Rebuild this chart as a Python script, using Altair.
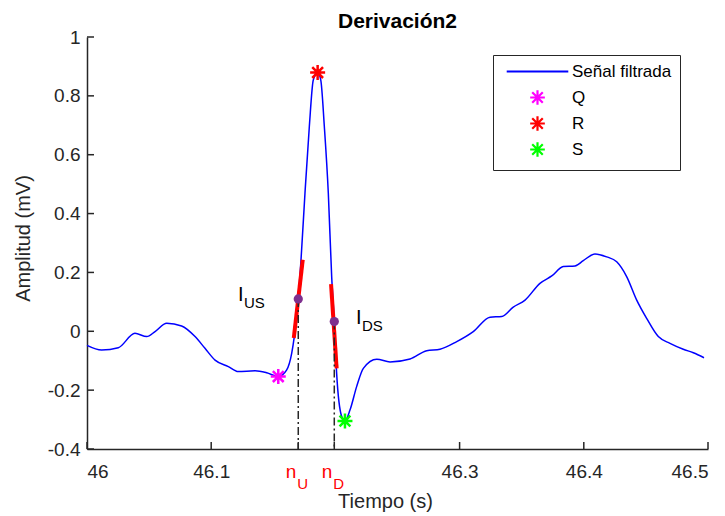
import altair as alt
import pandas as pd

# Filtered ECG segment, lead 2 (time in s, amplitude in mV)
t = [46.0, 46.0118, 46.0252, 46.0386, 46.0481, 46.0548, 46.0642, 46.0762, 46.0870,
     46.0950, 46.1031, 46.1138, 46.1218, 46.1353, 46.1447, 46.1540, 46.1608, 46.1648,
     46.1669, 46.1701, 46.1723, 46.1755, 46.1790, 46.1822, 46.1857, 46.1882, 46.1911,
     46.1943, 46.1970, 46.1991, 46.2010, 46.2051, 46.2077, 46.2118, 46.2171, 46.2225,
     46.2333, 46.2440, 46.2601, 46.2735, 46.2842, 46.2977, 46.3110, 46.3245, 46.3339,
     46.3432, 46.3527, 46.3647, 46.3742, 46.3835, 46.3929, 46.3996, 46.4090, 46.4184,
     46.4265, 46.4345, 46.4426, 46.4506, 46.4600, 46.4694, 46.4801, 46.4882, 46.4968]
amp = [-0.048, -0.064, -0.056, -0.007, -0.018, -0.001, 0.027, 0.018, -0.018,
       -0.058, -0.098, -0.120, -0.137, -0.134, -0.141, -0.154, -0.131, -0.075,
       -0.018, 0.110, 0.242, 0.469, 0.695, 0.854, 0.879, 0.854, 0.695,
       0.469, 0.186, 0.033, -0.143, -0.290, -0.305, -0.267, -0.188, -0.126,
       -0.095, -0.104, -0.094, -0.066, -0.061, -0.035, -0.001, 0.048, 0.050,
       0.082, 0.106, 0.163, 0.188, 0.220, 0.222, 0.240, 0.263, 0.253,
       0.236, 0.186, 0.106, 0.044, -0.018, -0.041, -0.061, -0.073, -0.090]

# Q, R, S fiducial points
qrs_name = ["Q", "R", "S"]
qrs_t = [46.1540, 46.1857, 46.2077]
qrs_amp = [-0.154, 0.879, -0.305]

# Maximum-slope points on the upstroke (U) and downstroke (D)
slope_name = ["U", "D"]
slope_t = [46.1701, 46.1991]
slope_amp = [0.110, 0.033]
# tangent segments through those points
tan_t0 = [46.1665, 46.1965]
tan_a0 = [-0.023, 0.160]
tan_t1 = [46.1737, 46.2010]
tan_a1 = [0.243, -0.126]

# I_US / I_DS annotations (data coordinates of the label start)
ann_main = ["I", "I"]
ann_sub = ["US", "DS"]
ann_t = [46.1216, 46.2166]
ann_amp = [0.123, 0.045]

x_labels = [46, 46.1, 46.3, 46.4, 46.5]
x_ticks = [46, 46.1, 46.3, 46.4, 46.5] + slope_t
y_ticks = [-0.4, -0.2, 0, 0.2, 0.4, 0.6, 0.8, 1]
y_floor = -0.4

series = ["Señal filtrada", "Q", "R", "S"]
series_colors = ["#0000ff", "#ff00ff", "#ff0000", "#00ff00"]
STAR = "M0,-1V1M-1,0H1M-0.72,-0.72L0.72,0.72M-0.72,0.72L0.72,-0.72"
LINE = "M-4.2,0H4.2"

W, H = 621, 412
FONT = "Liberation Sans"
AX = "#262626"

sig = pd.DataFrame({"t": t, "amp": amp})
qrs = pd.DataFrame({"t": qrs_t, "amp": qrs_amp, "serie": qrs_name})
slp = pd.DataFrame({"t": slope_t, "amp": slope_amp, "name": slope_name,
                    "floor": [y_floor] * len(slope_t)})
tan = pd.DataFrame({"t0": tan_t0, "a0": tan_a0, "t1": tan_t1, "a1": tan_a1})
ann = pd.DataFrame({"t": ann_t, "amp": ann_amp, "main": ann_main, "sub": ann_sub})
xt = pd.DataFrame({"t": x_ticks})
yt = pd.DataFrame({"amp": y_ticks})

xs = alt.Scale(domain=[46, 46.5], nice=False, zero=False)
ys = alt.Scale(domain=[-0.4, 1], nice=False, zero=False)

X = alt.X("t:Q", scale=xs, axis=alt.Axis(values=x_labels, labelExpr="toString(datum.value)",
                                         title="Tiempo (s)"))
Y = alt.Y("amp:Q", scale=ys, axis=alt.Axis(values=y_ticks, labelExpr="toString(datum.value)",
                                           title="Amplitud (mV)"))

curve = alt.Chart(sig).mark_line(color="#0000ff", strokeWidth=1.5, interpolate="monotone").encode(
    x=X, y=Y)

tangents = alt.Chart(tan).mark_rule(color="#ff0000", strokeWidth=4).encode(
    x=alt.X("t0:Q", scale=xs), x2="t1:Q",
    y=alt.Y("a0:Q", scale=ys), y2="a1:Q")

drops = alt.Chart(slp).mark_rule(color=AX, strokeWidth=1.5, strokeDash=[8, 3, 2, 3]).encode(
    x=alt.X("t:Q", scale=xs), y=alt.Y("amp:Q", scale=ys), y2="floor:Q")

dots = alt.Chart(slp).mark_point(shape="circle", filled=True, size=85, opacity=1,
                                 color="#7e2f8e").encode(
    x=alt.X("t:Q", scale=xs), y=alt.Y("amp:Q", scale=ys))

stars = alt.Chart(qrs).mark_point(filled=False, size=225, strokeWidth=2.5, opacity=1).encode(
    x=alt.X("t:Q", scale=xs), y=alt.Y("amp:Q", scale=ys),
    color=alt.Color("serie:N", scale=alt.Scale(domain=series, range=series_colors),
                    legend=alt.Legend(title=None, orient="none", legendX=406, legendY=18,
                                      padding=8, strokeColor=AX, fillColor="white",
                                      symbolOffset=28, labelOffset=26, rowPadding=1,
                                      gridAlign="all",
                                      symbolSize=215, symbolStrokeWidth=2.2,
                                      labelFont=FONT, labelFontSize=17, labelColor="black")),
    shape=alt.Shape("serie:N", scale=alt.Scale(domain=series, range=[LINE, STAR, STAR, STAR])))

xticks = alt.Chart(xt).mark_rule(color=AX, strokeWidth=1.5).encode(
    x=alt.X("t:Q", scale=xs), y=alt.value(H), y2=alt.value(H - 7))
yticks = alt.Chart(yt).mark_rule(color=AX, strokeWidth=1.5).encode(
    y=alt.Y("amp:Q", scale=ys), x=alt.value(0), x2=alt.value(7))

# red n_U / n_D tick labels
n_main = alt.Chart(slp).mark_text(text="n", color="#ff0000", font=FONT, fontSize=19,
                                  align="right", baseline="alphabetic", dx=-2).encode(
    x=alt.X("t:Q", scale=xs), y=alt.value(H + 29))
n_sub = alt.Chart(slp).mark_text(color="#ff0000", font=FONT, fontSize=15,
                                 align="left", baseline="alphabetic", dx=-1).encode(
    x=alt.X("t:Q", scale=xs), y=alt.value(H + 40), text="name:N")

ann_i = alt.Chart(ann).mark_text(color="black", font=FONT, fontSize=20, align="left",
                                 baseline="middle").encode(
    x=alt.X("t:Q", scale=xs), y=alt.Y("amp:Q", scale=ys), text="main:N")
ann_s = alt.Chart(ann).mark_text(color="black", font=FONT, fontSize=15, align="left",
                                 baseline="middle", dx=6, dy=8).encode(
    x=alt.X("t:Q", scale=xs), y=alt.Y("amp:Q", scale=ys), text="sub:N")

chart = alt.layer(
    curve, tangents, drops, dots, stars, xticks, yticks, n_main, n_sub, ann_i, ann_s
).properties(
    width=W, height=H,
    autosize=alt.AutoSizeParams(type="none"),
    padding={"left": 87, "top": 37, "right": 17, "bottom": 67},
    title=alt.TitleParams("Derivación2", font=FONT, fontSize=21, fontWeight="bold",
                          color="black", offset=-4),
).configure_view(stroke=None).configure_axis(
    grid=False, ticks=False, tickSize=0, domainColor=AX, domainWidth=1.5,
    labelFont=FONT, labelFontSize=19, labelColor=AX,
    titleFont=FONT, titleFontSize=20, titleFontWeight="normal", titleColor=AX,
).configure_axisX(labelPadding=13, titlePadding=10, titleX=298).configure_axisY(
    labelPadding=7, titlePadding=14, titleY=201)

chart.save("out.html", embed_options={"renderer": "svg", "actions": False})
